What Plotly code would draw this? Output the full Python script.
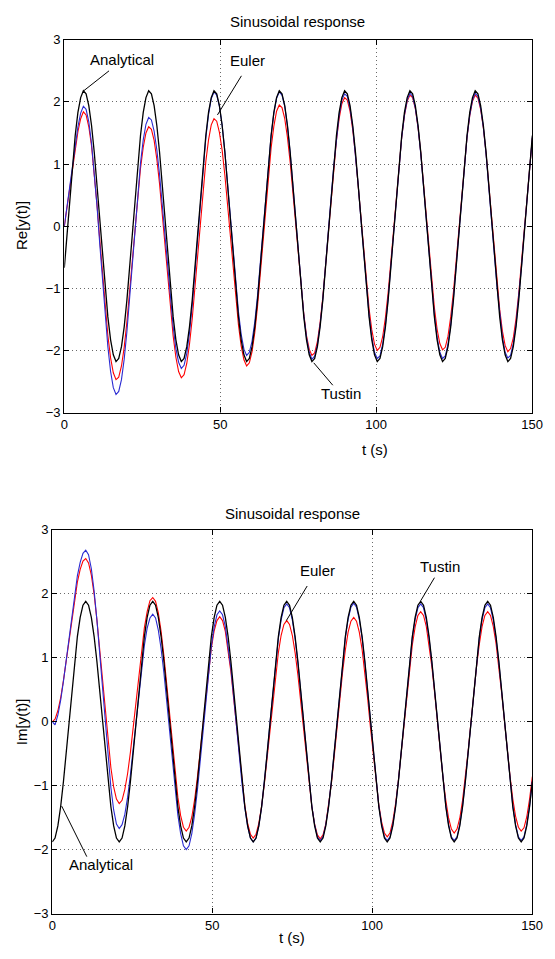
import plotly.graph_objects as go

# sample times (s)
t = [0.00, 0.87, 1.75, 2.62, 3.49, 4.36, 5.24, 6.11, 6.98, 7.85, 8.73, 9.60, 10.47, 11.34, 12.22, 13.09, 13.96, 14.84, 15.71, 16.58, 17.45, 18.33, 19.20, 20.07,
     20.94, 21.82, 22.69, 23.56, 24.43, 25.31, 26.18, 27.05, 27.93, 28.80, 29.67, 30.54, 31.42, 32.29, 33.16, 34.03, 34.91, 35.78, 36.65, 37.52, 38.40, 39.27, 40.14, 41.02,
     41.89, 42.76, 43.63, 44.51, 45.38, 46.25, 47.12, 48.00, 48.87, 49.74, 50.62, 51.49, 52.36, 53.23, 54.11, 54.98, 55.85, 56.72, 57.60, 58.47, 59.34, 60.21, 61.09, 61.96,
     62.83, 63.71, 64.58, 65.45, 66.32, 67.20, 68.07, 68.94, 69.81, 70.69, 71.56, 72.43, 73.30, 74.18, 75.05, 75.92, 76.80, 77.67, 78.54, 79.41, 80.29, 81.16, 82.03, 82.90,
     83.78, 84.65, 85.52, 86.39, 87.27, 88.14, 89.01, 89.89, 90.76, 91.63, 92.50, 93.38, 94.25, 95.12, 95.99, 96.87, 97.74, 98.61, 99.48, 100.36, 101.23, 102.10, 102.98, 103.85,
     104.72, 105.59, 106.47, 107.34, 108.21, 109.08, 109.96, 110.83, 111.70, 112.57, 113.45, 114.32, 115.19, 116.07, 116.94, 117.81, 118.68, 119.56, 120.43, 121.30, 122.17, 123.05, 123.92, 124.79,
     125.66, 126.54, 127.41, 128.28, 129.15, 130.03, 130.90, 131.77, 132.65, 133.52, 134.39, 135.26, 136.14, 137.01, 137.88, 138.75, 139.63, 140.50, 141.37, 142.24, 143.12, 143.99, 144.86, 145.74,
     146.61, 147.48, 148.35, 149.23, 150.10]

re_analytical = [
    -0.67, -0.11, 0.45, 0.99, 1.46, 1.83, 2.07, 2.18, 2.13, 1.94, 1.62, 1.19, 0.67, 0.11, -0.45, -0.99, -1.46, -1.83, -2.07, -2.18, -2.13, -1.94, -1.62, -1.19,
    -0.67, -0.11, 0.45, 0.99, 1.46, 1.83, 2.07, 2.18, 2.13, 1.94, 1.62, 1.19, 0.67, 0.11, -0.45, -0.99, -1.46, -1.83, -2.07, -2.18, -2.13, -1.94, -1.62, -1.19,
    -0.67, -0.11, 0.45, 0.99, 1.46, 1.83, 2.07, 2.18, 2.13, 1.94, 1.62, 1.19, 0.67, 0.11, -0.45, -0.99, -1.46, -1.83, -2.07, -2.18, -2.13, -1.94, -1.62, -1.19,
    -0.67, -0.11, 0.45, 0.99, 1.46, 1.83, 2.07, 2.18, 2.13, 1.94, 1.62, 1.19, 0.67, 0.11, -0.45, -0.99, -1.46, -1.83, -2.07, -2.18, -2.13, -1.94, -1.62, -1.19,
    -0.67, -0.11, 0.45, 0.99, 1.46, 1.83, 2.07, 2.18, 2.13, 1.94, 1.62, 1.19, 0.67, 0.11, -0.45, -0.99, -1.46, -1.83, -2.07, -2.18, -2.13, -1.94, -1.62, -1.19,
    -0.67, -0.11, 0.45, 0.99, 1.46, 1.83, 2.07, 2.18, 2.13, 1.94, 1.62, 1.19, 0.67, 0.11, -0.45, -0.99, -1.46, -1.83, -2.07, -2.18, -2.13, -1.94, -1.62, -1.19,
    -0.67, -0.11, 0.45, 0.99, 1.46, 1.83, 2.07, 2.18, 2.13, 1.94, 1.62, 1.19, 0.67, 0.11, -0.45, -0.99, -1.46, -1.83, -2.07, -2.18, -2.13, -1.94, -1.62, -1.19,
    -0.67, -0.11, 0.45, 0.99, 1.46]

re_euler = [
    0.00, 0.30, 0.62, 0.95, 1.25, 1.52, 1.73, 1.84,
    1.79, 1.60, 1.29, 0.86, 0.35, -0.20, -0.76, -1.29, -1.76, -2.12, -2.36, -2.47,
    -2.43, -2.25, -1.95, -1.54, -1.06, -0.54, -0.01, 0.49, 0.93, 1.27, 1.50, 1.60,
    1.56, 1.38, 1.08, 0.68, 0.20, -0.31, -0.84, -1.34, -1.77, -2.11, -2.34, -2.44,
    -2.39, -2.21, -1.90, -1.49, -1.00, -0.46, 0.08, 0.59, 1.04, 1.39, 1.63, 1.73,
    1.69, 1.51, 1.22, 0.82, 0.35, -0.16, -0.67, -1.16, -1.59, -1.93, -2.15, -2.25,
    -2.20, -2.02, -1.71, -1.29, -0.80, -0.26, 0.29, 0.80, 1.26, 1.61, 1.85, 1.95,
    1.91, 1.73, 1.43, 1.03, 0.56, 0.04, -0.48, -0.98, -1.41, -1.76, -1.98, -2.08,
    -2.04, -1.86, -1.55, -1.14, -0.65, -0.11, 0.43, 0.94, 1.38, 1.73, 1.97, 2.07,
    2.03, 1.85, 1.55, 1.14, 0.66, 0.14, -0.39, -0.89, -1.33, -1.67, -1.90, -2.00,
    -1.95, -1.78, -1.47, -1.07, -0.58, -0.05, 0.48, 0.99, 1.43, 1.78, 2.01, 2.11,
    2.07, 1.89, 1.58, 1.18, 0.69, 0.17, -0.37, -0.87, -1.31, -1.66, -1.89, -1.99,
    -1.95, -1.77, -1.46, -1.06, -0.57, -0.05, 0.49, 0.99, 1.43, 1.78, 2.01, 2.11,
    2.06, 1.88, 1.58, 1.17, 0.68, 0.15, -0.38, -0.89, -1.34, -1.69, -1.92, -2.02,
    -1.97, -1.80, -1.49, -1.08, -0.60, -0.07, 0.47, 0.98, 1.42]

re_tustin = [
    0.00, 0.32, 0.66, 1.00, 1.32, 1.60, 1.82, 1.93,
    1.88, 1.68, 1.33, 0.87, 0.33, -0.27, -0.87, -1.44, -1.94, -2.34, -2.60, -2.71,
    -2.66, -2.47, -2.14, -1.70, -1.17, -0.60, -0.02, 0.53, 1.01, 1.39, 1.64, 1.75,
    1.71, 1.53, 1.23, 0.83, 0.35, -0.17, -0.69, -1.19, -1.62, -1.97, -2.19, -2.29,
    -2.24, -2.05, -1.72, -1.28, -0.75, -0.18, 0.40, 0.95, 1.42, 1.80, 2.05, 2.16,
    2.11, 1.93, 1.62, 1.20, 0.70, 0.15, -0.40, -0.92, -1.38, -1.74, -1.98, -2.08,
    -2.03, -1.85, -1.54, -1.12, -0.62, -0.07, 0.48, 1.00, 1.46, 1.82, 2.06, 2.16,
    2.11, 1.93, 1.61, 1.18, 0.67, 0.12, -0.44, -0.97, -1.43, -1.79, -2.03, -2.14,
    -2.09, -1.91, -1.59, -1.17, -0.67, -0.12, 0.44, 0.96, 1.42, 1.79, 2.03, 2.13,
    2.09, 1.90, 1.59, 1.16, 0.66, 0.11, -0.44, -0.97, -1.43, -1.79, -2.03, -2.13,
    -2.09, -1.90, -1.59, -1.16, -0.66, -0.11, 0.44, 0.97, 1.43, 1.79, 2.03, 2.14,
    2.09, 1.90, 1.59, 1.16, 0.66, 0.11, -0.44, -0.97, -1.43, -1.79, -2.03, -2.13,
    -2.09, -1.90, -1.59, -1.16, -0.66, -0.11, 0.44, 0.97, 1.43, 1.79, 2.03, 2.14,
    2.09, 1.90, 1.59, 1.16, 0.66, 0.11, -0.44, -0.97, -1.43, -1.79, -2.03, -2.12,
    -2.08, -1.89, -1.58, -1.16, -0.66, -0.11, 0.44, 0.97, 1.43]

im_analytical = [
    -1.88, -1.82, -1.63, -1.33, -0.94, -0.49, 0.00, 0.49, 0.94, 1.33, 1.63, 1.82, 1.88, 1.82, 1.63, 1.33, 0.94, 0.49, 0.00, -0.49, -0.94, -1.33, -1.63, -1.82,
    -1.88, -1.82, -1.63, -1.33, -0.94, -0.49, 0.00, 0.49, 0.94, 1.33, 1.63, 1.82, 1.88, 1.82, 1.63, 1.33, 0.94, 0.49, 0.00, -0.49, -0.94, -1.33, -1.63, -1.82,
    -1.88, -1.82, -1.63, -1.33, -0.94, -0.49, 0.00, 0.49, 0.94, 1.33, 1.63, 1.82, 1.88, 1.82, 1.63, 1.33, 0.94, 0.49, 0.00, -0.49, -0.94, -1.33, -1.63, -1.82,
    -1.88, -1.82, -1.63, -1.33, -0.94, -0.49, 0.00, 0.49, 0.94, 1.33, 1.63, 1.82, 1.88, 1.82, 1.63, 1.33, 0.94, 0.49, 0.00, -0.49, -0.94, -1.33, -1.63, -1.82,
    -1.88, -1.82, -1.63, -1.33, -0.94, -0.49, 0.00, 0.49, 0.94, 1.33, 1.63, 1.82, 1.88, 1.82, 1.63, 1.33, 0.94, 0.49, 0.00, -0.49, -0.94, -1.33, -1.63, -1.82,
    -1.88, -1.82, -1.63, -1.33, -0.94, -0.49, 0.00, 0.49, 0.94, 1.33, 1.63, 1.82, 1.88, 1.82, 1.63, 1.33, 0.94, 0.49, 0.00, -0.49, -0.94, -1.33, -1.63, -1.82,
    -1.88, -1.82, -1.63, -1.33, -0.94, -0.49, 0.00, 0.49, 0.94, 1.33, 1.63, 1.82, 1.88, 1.82, 1.63, 1.33, 0.94, 0.49, 0.00, -0.49, -0.94, -1.33, -1.63, -1.82,
    -1.88, -1.82, -1.63, -1.33, -0.94]

im_euler = [
    0.00, 0.04, 0.17, 0.37, 0.64, 0.94, 1.28, 1.61, 1.91, 2.18, 2.38, 2.51, 2.55,
    2.48, 2.29, 1.99, 1.59, 1.13, 0.64, 0.14, -0.32, -0.72, -1.02, -1.21, -1.28,
    -1.23, -1.06, -0.81, -0.48, -0.09, 0.33, 0.75, 1.14, 1.47, 1.72, 1.89, 1.94,
    1.88, 1.70, 1.41, 1.03, 0.59, 0.12, -0.36, -0.80, -1.18, -1.47, -1.65, -1.71,
    -1.65, -1.49, -1.22, -0.87, -0.47, -0.04, 0.40, 0.80, 1.15, 1.42, 1.58, 1.64,
    1.58, 1.41, 1.13, 0.78, 0.36, -0.09, -0.54, -0.96, -1.31, -1.59, -1.76, -1.82,
    -1.76, -1.59, -1.32, -0.97, -0.56, -0.12, 0.32, 0.73, 1.08, 1.35, 1.52, 1.58,
    1.52, 1.35, 1.08, 0.73, 0.32, -0.13, -0.57, -0.98, -1.33, -1.60, -1.77, -1.83,
    -1.77, -1.60, -1.32, -0.97, -0.55, -0.10, 0.35, 0.77, 1.12, 1.40, 1.57, 1.63,
    1.57, 1.40, 1.13, 0.77, 0.36, -0.09, -0.53, -0.94, -1.30, -1.57, -1.74, -1.80,
    -1.74, -1.56, -1.28, -0.92, -0.50, -0.04, 0.42, 0.84, 1.20, 1.48, 1.66, 1.72,
    1.66, 1.49, 1.21, 0.86, 0.44, -0.01, -0.46, -0.88, -1.23, -1.51, -1.68, -1.74,
    -1.68, -1.51, -1.23, -0.88, -0.46, -0.01, 0.44, 0.86, 1.21, 1.49, 1.66, 1.72,
    1.66, 1.49, 1.22, 0.86, 0.45, 0.01, -0.44, -0.85, -1.21, -1.48, -1.65, -1.71,
    -1.66, -1.49, -1.21, -0.86]

im_tustin = [
    0.00, -0.05, 0.10, 0.33, 0.63, 0.96, 1.32, 1.68, 2.00, 2.28, 2.49, 2.63, 2.68,
    2.61, 2.39, 2.04, 1.59, 1.07, 0.51, -0.06, -0.58, -1.03, -1.38, -1.60, -1.67,
    -1.61, -1.45, -1.18, -0.83, -0.43, 0.01, 0.44, 0.84, 1.19, 1.46, 1.62, 1.68,
    1.62, 1.43, 1.14, 0.76, 0.32, -0.16, -0.64, -1.08, -1.46, -1.75, -1.94, -2.00,
    -1.94, -1.75, -1.45, -1.07, -0.62, -0.14, 0.35, 0.80, 1.18, 1.48, 1.67, 1.73,
    1.67, 1.49, 1.20, 0.83, 0.39, -0.08, -0.54, -0.98, -1.35, -1.64, -1.82, -1.88,
    -1.82, -1.63, -1.34, -0.95, -0.50, -0.02, 0.46, 0.91, 1.30, 1.59, 1.78, 1.84,
    1.78, 1.59, 1.30, 0.92, 0.47, -0.01, -0.49, -0.94, -1.32, -1.61, -1.80, -1.86,
    -1.80, -1.61, -1.32, -0.93, -0.49, -0.01, 0.48, 0.92, 1.31, 1.60, 1.79, 1.85,
    1.79, 1.60, 1.31, 0.92, 0.47, -0.01, -0.49, -0.94, -1.32, -1.61, -1.80, -1.86,
    -1.80, -1.61, -1.32, -0.93, -0.49, -0.01, 0.48, 0.92, 1.31, 1.60, 1.78, 1.84,
    1.78, 1.59, 1.30, 0.92, 0.47, -0.01, -0.49, -0.94, -1.32, -1.61, -1.80, -1.86,
    -1.80, -1.61, -1.32, -0.93, -0.49, -0.01, 0.48, 0.92, 1.31, 1.60, 1.78, 1.84,
    1.78, 1.59, 1.30, 0.92, 0.47, -0.01, -0.49, -0.94, -1.32, -1.61, -1.80, -1.86,
    -1.80, -1.61, -1.32, -0.93]

x_ticks = [0, 50, 100, 150]
y_ticks = [-3, -2, -1, 0, 1, 2, 3]
title_text = "Sinusoidal response"
x_label = "t (s)"
y_label_re = "Re[y(t)]"
y_label_im = "Im[y(t)]"

for arr in (re_analytical, re_euler, re_tustin, im_analytical, im_euler, im_tustin):
    assert len(arr) == len(t), len(arr)

W, H = 555, 959
FONT = "Liberation Sans, Arial, Helvetica, sans-serif"


def px(x):
    return x / W


def py(y):
    return 1 - y / H


COLORS = {"Euler": "#ff0000", "Tustin": "#2a2ad2", "Analytical": "#000000"}
WIDTHS = {"Euler": 1.1, "Tustin": 1.1, "Analytical": 1.3}

fig = go.Figure()
for name, ys in (("Euler", re_euler), ("Tustin", re_tustin), ("Analytical", re_analytical)):
    fig.add_trace(go.Scatter(x=t, y=ys, mode="lines", name=name, showlegend=False,
                             line=dict(color=COLORS[name], width=WIDTHS[name]), xaxis="x", yaxis="y"))
for name, ys in (("Euler", im_euler), ("Tustin", im_tustin), ("Analytical", im_analytical)):
    fig.add_trace(go.Scatter(x=t, y=ys, mode="lines", name=name, showlegend=False,
                             line=dict(color=COLORS[name], width=WIDTHS[name]), xaxis="x2", yaxis="y2"))

ax_common = dict(showline=True, mirror="ticks", linecolor="black", linewidth=1.3,
                 ticks="inside", ticklen=5, tickcolor="black", tickwidth=1,
                 showgrid=True, gridcolor="#6a6a6a", gridwidth=1, griddash="1px,3px",
                 zeroline=False, tickfont=dict(family=FONT, size=13, color="black"))

fig.update_layout(
    width=W, height=H, margin=dict(l=0, r=0, t=0, b=0),
    paper_bgcolor="white", plot_bgcolor="white",
    font=dict(family=FONT, color="black"),
    xaxis=dict(domain=[px(62), px(542.7)], anchor="y", range=[0, 150], tickvals=x_ticks, **ax_common),
    yaxis=dict(domain=[py(412), py(33.3)], anchor="x", range=[-3, 3], tickvals=y_ticks, **ax_common),
    xaxis2=dict(domain=[px(49.6), px(542.7)], anchor="y2", range=[0, 150], tickvals=x_ticks, **ax_common),
    yaxis2=dict(domain=[py(921), py(531)], anchor="x2", range=[-3, 3], tickvals=y_ticks, **ax_common),
)

label_font = dict(family=FONT, size=15, color="black")
centered = dict(showarrow=False, xanchor="center", yanchor="middle", font=label_font)
annotations = [
    # titles and axis labels
    dict(text=title_text, x=px(302), y=py(15), xref="paper", yref="paper", **centered),
    dict(text=title_text, x=px(296), y=py(515), xref="paper", yref="paper", **centered),
    dict(text=x_label, x=px(381), y=py(450), xref="paper", yref="paper", **centered),
    dict(text=x_label, x=px(296), y=py(945), xref="paper", yref="paper", **centered),
    dict(text=y_label_re, x=px(18), y=py(222), xref="paper", yref="paper", textangle=-90, **centered),
    dict(text=y_label_im, x=px(18), y=py(726), xref="paper", yref="paper", textangle=-90, **centered),
    # curve labels (top)
    dict(text="Analytical", x=18.55, y=2.68, xref="x", yref="y", **centered),
    dict(text="Euler", x=58.7, y=2.66, xref="x", yref="y", **centered),
    dict(text="Tustin", x=88.6, y=-2.69, xref="x", yref="y", **centered),
    # curve labels (bottom)
    dict(text="Euler", x=82.8, y=2.37, xref="x2", yref="y2", **centered),
    dict(text="Tustin", x=121.1, y=2.43, xref="x2", yref="y2", **centered),
    dict(text="Analytical", x=15.3, y=-2.23, xref="x2", yref="y2", **centered),
]
fig.update_layout(annotations=annotations)

leader = dict(color="black", width=1)
shapes = [
    dict(type="line", xref="x", yref="y", x0=14.34, y0=2.50, x1=6.24, y1=2.18, line=leader),
    dict(type="line", xref="x", yref="y", x0=56.8, y0=2.42, x1=49.1, y1=1.79, line=leader),
    dict(type="line", xref="x", yref="y", x0=86.1, y0=-2.56, x1=80.0, y1=-2.20, line=leader),
    dict(type="line", xref="x2", yref="y2", x0=79.7, y0=2.12, x1=73.2, y1=1.58, line=leader),
    dict(type="line", xref="x2", yref="y2", x0=119.5, y0=2.25, x1=115.2, y1=1.89, line=leader),
    dict(type="line", xref="x2", yref="y2", x0=2.95, y0=-1.32, x1=10.8, y1=-2.11, line=leader),
]
fig.update_layout(shapes=shapes)

fig.write_html("out.html")
